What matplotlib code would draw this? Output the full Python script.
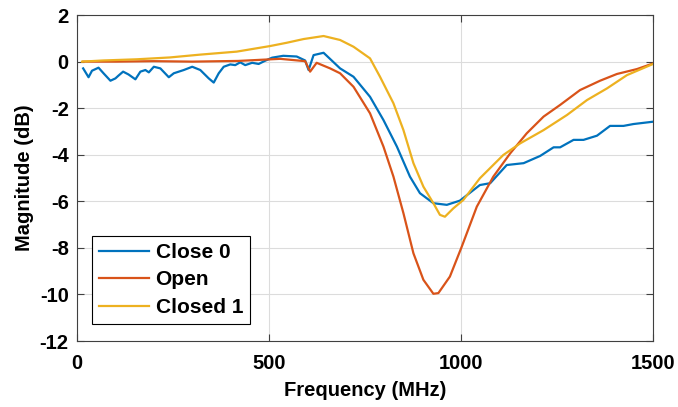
import matplotlib.pyplot as plt
import numpy as np

# frequency (MHz) / magnitude (dB)
f_close0 = [16, 30, 39, 56, 69, 87, 100, 108, 120, 134, 152, 165, 178, 187, 200, 217,
            239, 252, 278, 300, 321, 343, 356, 369, 382, 399, 412, 425, 438, 456, 473,
            490, 508, 537, 572, 594, 603, 616, 642, 660, 685, 720, 763, 798, 833, 867,
            893, 928, 963, 997, 1049, 1076, 1119, 1163, 1206, 1241, 1258, 1293, 1319,
            1354, 1388, 1423, 1449, 1500]
m_close0 = [-0.29, -0.67, -0.39, -0.26, -0.50, -0.82, -0.72, -0.60, -0.43, -0.55, -0.76,
            -0.43, -0.36, -0.46, -0.22, -0.29, -0.67, -0.50, -0.36, -0.22, -0.36, -0.72,
            -0.90, -0.50, -0.22, -0.12, -0.15, -0.03, -0.15, -0.05, -0.10, 0.04, 0.17,
            0.25, 0.22, 0.05, -0.36, 0.28, 0.38, 0.10, -0.29, -0.65, -1.51, -2.51, -3.65,
            -4.94, -5.65, -6.08, -6.15, -5.97, -5.30, -5.22, -4.44, -4.36, -4.05, -3.68,
            -3.68, -3.36, -3.36, -3.18, -2.76, -2.76, -2.68, -2.58]

f_open = [16, 100, 200, 300, 420, 529, 594, 607, 624, 659, 685, 720, 763, 798, 824, 850,
          876, 902, 928, 941, 971, 1002, 1041, 1084, 1128, 1171, 1215, 1258, 1310, 1362,
          1406, 1458, 1500]
m_open = [0.0, 0.0, 0.02, 0.0, 0.03, 0.12, 0.02, -0.43, -0.05, -0.29, -0.50, -1.08, -2.22,
          -3.65, -4.94, -6.51, -8.23, -9.37, -9.97, -9.94, -9.23, -7.94, -6.23, -4.94,
          -3.94, -3.08, -2.36, -1.86, -1.22, -0.82, -0.53, -0.32, -0.08]

f_closed1 = [13, 68, 155, 242, 320, 416, 503, 546, 590, 642, 685, 720, 763, 789, 824, 850,
             876, 902, 928, 945, 958, 980, 1006, 1049, 1110, 1154, 1215, 1276, 1328, 1380,
             1432, 1500]
m_closed1 = [0.0, 0.05, 0.10, 0.18, 0.30, 0.43, 0.67, 0.81, 0.97, 1.10, 0.93, 0.64, 0.14,
             -0.65, -1.79, -2.94, -4.36, -5.37, -6.08, -6.58, -6.66, -6.30, -5.94, -5.01,
             -4.01, -3.51, -2.94, -2.29, -1.65, -1.15, -0.58, -0.10]

plt.rcParams['font.family'] = ['Liberation Sans', 'DejaVu Sans']
plt.rcParams['font.weight'] = 'bold'
plt.rcParams['axes.unicode_minus'] = False

fig = plt.figure(figsize=(6.78, 4.07), dpi=100)
ax = fig.add_axes([0.1136, 0.162, 0.8496, 0.801])

ax.plot(f_close0, m_close0, color='#0072BD', lw=1.6, label='Close 0')
ax.plot(f_open, m_open, color='#D95319', lw=1.6, label='Open')
ax.plot(f_closed1, m_closed1, color='#EDB120', lw=1.6, label='Closed 1')

ax.set_xlim(0, 1500)
ax.set_ylim(-12, 2)
ax.set_xticks([0, 500, 1000, 1500])
ax.set_yticks(np.arange(-12, 3, 2))
ax.grid(True, color='#dcdcdc', lw=0.8)
ax.tick_params(direction='in', top=True, right=True, labelsize=14.5, length=5,
               color='#404040')
ax.tick_params(axis='x', pad=9)
ax.tick_params(axis='y', pad=6)
for lbl in ax.get_xticklabels() + ax.get_yticklabels():
    lbl.set_fontweight('bold')
for s in ax.spines.values():
    s.set_color('#404040')

ax.set_xlabel('Frequency (MHz)', fontsize=14.5, fontweight='bold', labelpad=6)
ax.set_ylabel('Magnitude (dB)', fontsize=14.5, fontweight='bold', labelpad=4)

leg = ax.legend(loc='lower left', bbox_to_anchor=(0.026, 0.052), borderaxespad=0,
                fancybox=False, edgecolor='black', framealpha=1,
                prop={'size': 15, 'weight': 'bold'}, handlelength=2.4,
                handletextpad=0.3, labelspacing=0.4, borderpad=0.35)
leg.get_frame().set_linewidth(0.8)

plt.savefig('out.png', dpi=100)
